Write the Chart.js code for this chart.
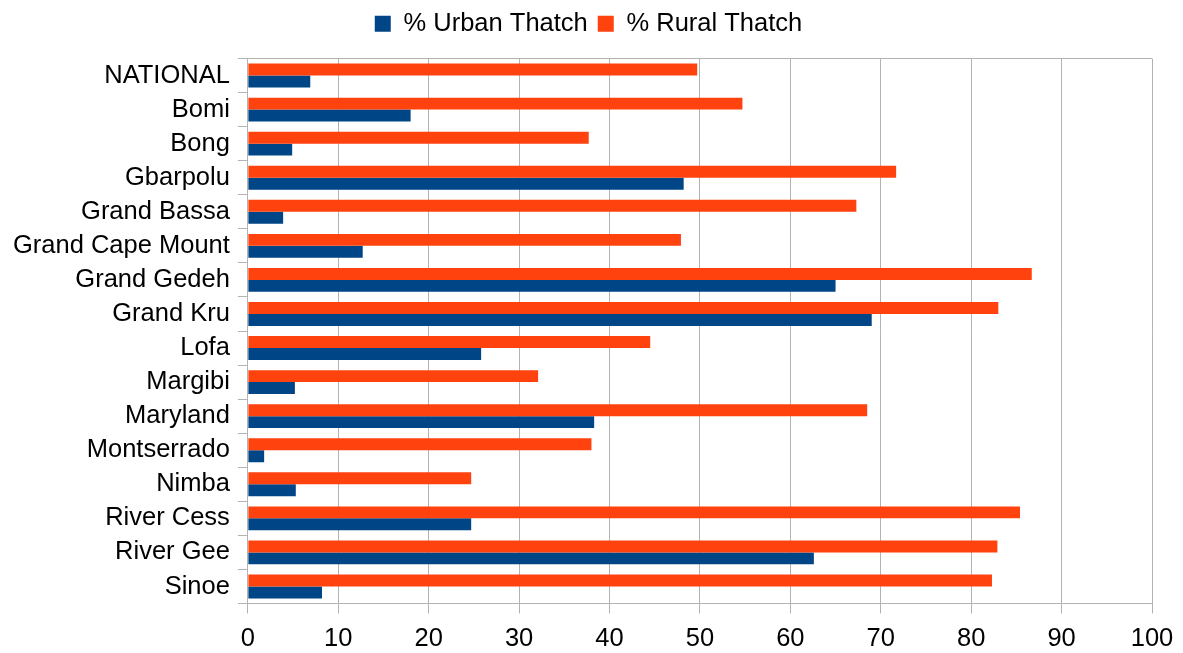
<!DOCTYPE html>
<html>
<head>
<meta charset="utf-8">
<script src="https://cdn.jsdelivr.net/npm/chart.js@4/dist/chart.umd.min.js"></script>
<style>
  html, body { margin: 0; padding: 0; background: #ffffff; }
  #wrap { width: 1183px; height: 653px; }
</style>
</head>
<body>
<div id="wrap"><canvas id="c" width="1183" height="653"></canvas></div>
<script>
const categories = ['NATIONAL', 'Bomi', 'Bong', 'Gbarpolu', 'Grand Bassa', 'Grand Cape Mount', 'Grand Gedeh', 'Grand Kru', 'Lofa', 'Margibi', 'Maryland', 'Montserrado', 'Nimba', 'River Cess', 'River Gee', 'Sinoe'];
const urbanThatch = [6.9, 18.0, 4.9, 48.2, 3.9, 12.7, 65.0, 69.0, 25.8, 5.2, 38.3, 1.8, 5.3, 24.7, 62.6, 8.2];
const ruralThatch = [49.7, 54.7, 37.7, 71.7, 67.3, 47.9, 86.7, 83.0, 44.5, 32.1, 68.5, 38.0, 24.7, 85.4, 82.9, 82.3];
const seriesNames = ['% Urban Thatch', '% Rural Thatch'];
const xTickMin = 0, xTickMax = 100, xTickStep = 10;

const GRID = '#b3b3b3';
const FONT = 'Liberation Sans';

const legendGap = {
  id: 'legendGap',
  beforeLayout(chart) {
    const lg = chart.legend;
    if (lg && !lg._gapPatched) {
      const fit = lg.fit;
      lg.fit = function () { fit.call(this); this.height += 12; };
      lg._gapPatched = true;
    }
  },
  afterLayout(chart) {
    const lg = chart.legend;
    if (lg) { lg.left += 10; lg.right += 10; }
  }
};

new Chart(document.getElementById('c'), {
  type: 'bar',
  data: {
    labels: categories,
    datasets: [
      { label: seriesNames[1], data: ruralThatch, backgroundColor: '#ff420e', borderWidth: 0 },
      { label: seriesNames[0], data: urbanThatch, backgroundColor: '#004586', borderWidth: 0 }
    ]
  },
  options: {
    indexAxis: 'y',
    responsive: false,
    animation: false,
    events: [],
    layout: { padding: { left: 5, right: 31, top: 1, bottom: -12 } },
    datasets: { bar: { categoryPercentage: 0.7, barPercentage: 1.0 } },
    plugins: {
      tooltip: { enabled: false },
      legend: {
        position: 'top',
        labels: {
          color: '#000000',
          font: { family: FONT, size: 25.5 },
          boxWidth: 16,
          boxHeight: 16,
          padding: 10,
          sort: (a, b) => b.datasetIndex - a.datasetIndex
        }
      }
    },
    scales: {
      x: {
        type: 'linear',
        min: xTickMin,
        max: xTickMax,
        afterFit: (s) => { s.paddingRight = 0; },
        ticks: {
          stepSize: xTickStep,
          color: '#000000',
          font: { family: FONT, size: 25.5, lineHeight: 1 },
          padding: 13
        },
        grid: { color: GRID, tickColor: GRID, lineWidth: 1, tickLength: 10 },
        border: { display: true, color: GRID, width: 1 }
      },
      y: {
        type: 'category',
        offset: true,
        ticks: {
          autoSkip: false,
          color: '#000000',
          font: { family: FONT, size: 25.5 },
          padding: 8
        },
        grid: {
          offset: true,
          drawOnChartArea: true,
          color: (ctx) => (ctx.type !== 'tick' || ctx.index === 0) ? GRID : 'rgba(0,0,0,0)',
          tickColor: GRID,
          lineWidth: 1,
          tickLength: 10
        },
        border: { display: true, color: GRID, width: 1 }
      }
    }
  },
  plugins: [legendGap]
});
</script>
</body>
</html>
